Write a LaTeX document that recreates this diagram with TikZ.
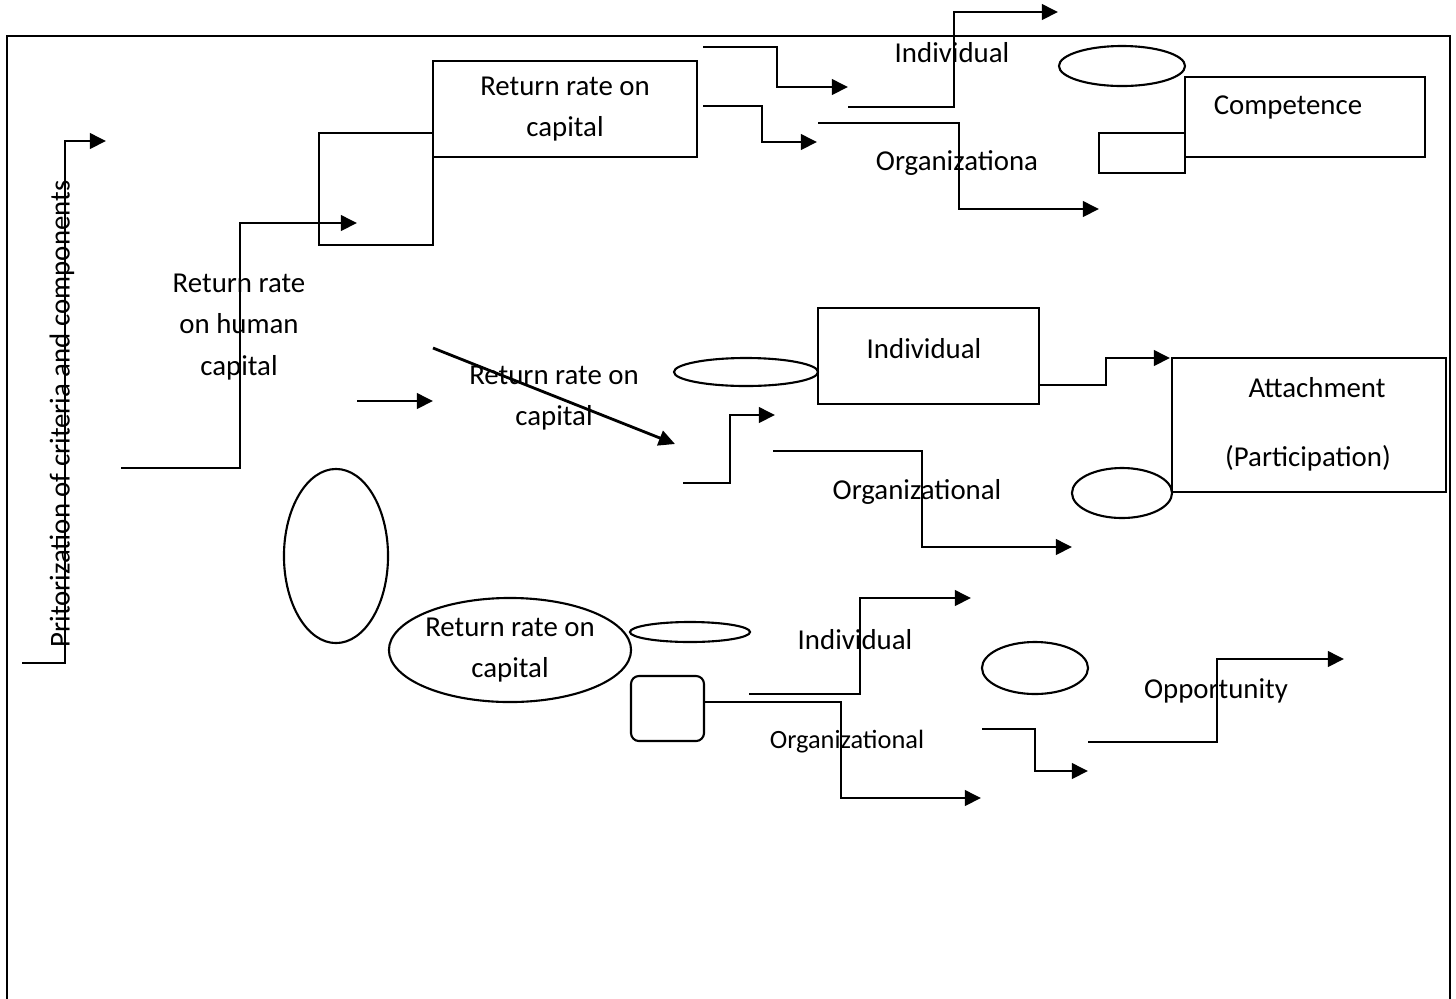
\documentclass[tikz,border=0pt]{standalone}
\usepackage{fontspec}
\setmainfont{Carlito}
\usetikzlibrary{arrows.meta,shapes.geometric}

\tikzset{
    txt/.style={font=\fontsize{8.2}{11.8}\selectfont,align=center,inner sep=0pt},
    box/.style={draw,line width=0.6pt,inner sep=0pt},
    oval/.style={draw,ellipse,line width=0.6pt,inner sep=0pt},
    conn/.style={line width=0.8pt,-{Triangle[length=4.6pt,width=4.4pt]}},
    bare/.style={line width=0.8pt}
}

\begin{document}
\begin{tikzpicture}[x=0.01cm,y=-0.01cm]
    \useasboundingbox (0,0) rectangle (1456,999);
    %
    \coordinate (F1) at (7,999);
    \coordinate (F2) at (7,36);
    \coordinate (F3) at (1450,36);
    \coordinate (F4) at (1450,999);
    \draw[line width=0.7pt] (F1) -- (F2) -- (F3) -- (F4);
    %
    \node[txt,rotate=90] (prio) at (62,414) {Pritorization of criteria and components};
    \coordinate (P1) at (22,663);
    \coordinate (P2) at (65,663);
    \coordinate (P3) at (65,141);
    \coordinate (P4) at (106,141);
    \draw[conn] (P1) -- (P2) -- (P3) -- (P4);
    %
    \node[txt] (human) at (239,327) {Return rate\\on human\\capital};
    \coordinate (H1) at (121,468);
    \coordinate (H2) at (240,468);
    \coordinate (H3) at (240,223);
    \coordinate (H4) at (357,223);
    \draw[conn] (H1) -- (H2) -- (H3) -- (H4);
    %
    \node[box,minimum width=1.14cm,minimum height=1.12cm] (sq) at (376,189) {};
    \node[box,txt,draw,line width=0.6pt,minimum width=2.64cm,minimum height=0.96cm] (capA) at (565,109) {Return rate on\\capital};
    %
    \coordinate (A1) at (703,47);
    \coordinate (A2) at (777,47);
    \coordinate (A3) at (777,87);
    \coordinate (A4) at (848,87);
    \coordinate (B1) at (703,106);
    \coordinate (B2) at (762,106);
    \coordinate (B3) at (762,142);
    \coordinate (B4) at (817,142);
    \coordinate (C1) at (848,107);
    \coordinate (C2) at (954,107);
    \coordinate (C3) at (954,12);
    \coordinate (C4) at (1058,12);
    \coordinate (D1) at (818,123);
    \coordinate (D2) at (959,123);
    \coordinate (D3) at (959,209);
    \coordinate (D4) at (1099,209);
    \draw[conn] (A1) -- (A2) -- (A3) -- (A4);
    \draw[conn] (B1) -- (B2) -- (B3) -- (B4);
    \draw[conn] (C1) -- (C2) -- (C3) -- (C4);
    \draw[conn] (D1) -- (D2) -- (D3) -- (D4);
    \node[txt] (indA) at (952,53) {Individual};
    \node[txt] (orgA) at (957,163) {Organizationa};
    %
    \node[oval,minimum width=1.26cm,minimum height=0.40cm] (ovA) at (1122,66) {};
    \node[box,minimum width=0.86cm,minimum height=0.40cm] (smA) at (1142,153) {};
    \node[box,fill=white,minimum width=2.40cm,minimum height=0.80cm] (comp) at (1305,117) {};
    \node[txt] (compT) at (1288,107) {Competence};
    %
    \coordinate (E1) at (357,401);
    \coordinate (E2) at (433,401);
    \coordinate (G1) at (433,348);
    \coordinate (G2) at (675,444);
    \draw[conn] (E1) -- (E2);
    \node[txt] (capB) at (554,398) {Return rate on\\capital};
    \draw[conn] (G1) -- (G2);
    %
    \coordinate (K1) at (683,483);
    \coordinate (K2) at (730,483);
    \coordinate (K3) at (730,415);
    \coordinate (K4) at (775,415);
    \draw[conn] (K1) -- (K2) -- (K3) -- (K4);
    \node[oval,minimum width=1.44cm,minimum height=0.28cm] (ovB) at (746,372) {};
    \node[box,minimum width=2.21cm,minimum height=0.96cm] (indB) at (928.5,356) {};
    \node[txt] (indBT) at (924,349) {Individual};
    %
    \coordinate (L1) at (1039,385);
    \coordinate (L2) at (1106,385);
    \coordinate (L3) at (1106,358);
    \coordinate (L4) at (1170,358);
    \draw[conn] (L1) -- (L2) -- (L3) -- (L4);
    \coordinate (M1) at (773,451);
    \coordinate (M2) at (922,451);
    \coordinate (M3) at (922,547);
    \coordinate (M4) at (1072,547);
    \draw[conn] (M1) -- (M2) -- (M3) -- (M4);
    \node[txt] (orgB) at (917,492) {Organizational};
    %
    \node[oval,minimum width=1.00cm,minimum height=0.50cm] (ovC) at (1122,493) {};
    \node[box,minimum width=2.74cm,minimum height=1.34cm] (att) at (1309,425) {};
    \node[txt] (attT) at (1317,388) {Attachment};
    \node[txt] (partT) at (1308,458) {(Participation)};
    %
    \node[oval,minimum width=1.04cm,minimum height=1.74cm] (ovD) at (336,556) {};
    \node[oval,txt,draw,line width=0.6pt,minimum width=2.42cm,minimum height=1.04cm] (capC) at (510,650) {Return rate on\\capital};
    \node[oval,minimum width=1.20cm,minimum height=0.20cm] (ovE) at (690,632) {};
    \node[box,rounded corners=0.08cm,minimum width=0.73cm,minimum height=0.65cm] (rsq) at (667.5,708.5) {};
    %
    \coordinate (N1) at (704,702);
    \coordinate (N2) at (841,702);
    \coordinate (N3) at (841,798);
    \coordinate (N4) at (981,798);
    \draw[conn] (N1) -- (N2) -- (N3) -- (N4);
    \coordinate (Q1) at (749,694);
    \coordinate (Q2) at (860,694);
    \coordinate (Q3) at (860,598);
    \coordinate (Q4) at (971,598);
    \draw[conn] (Q1) -- (Q2) -- (Q3) -- (Q4);
    \node[txt] (indC) at (855,640) {Individual};
    \node[txt,font=\fontsize{7.5}{9}\selectfont] (orgC) at (847,742) {Organizational};
    %
    \node[oval,minimum width=1.06cm,minimum height=0.52cm] (ovF) at (1035,668) {};
    \coordinate (R1) at (982,729);
    \coordinate (R2) at (1035,729);
    \coordinate (R3) at (1035,771);
    \coordinate (R4) at (1088,771);
    \draw[conn] (R1) -- (R2) -- (R3) -- (R4);
    \coordinate (S1) at (1088,742);
    \coordinate (S2) at (1217,742);
    \coordinate (S3) at (1217,659);
    \coordinate (S4) at (1344,659);
    \draw[conn] (S1) -- (S2) -- (S3) -- (S4);
    \node[txt] (opp) at (1216,691) {Opportunity};
    %
\end{tikzpicture}
\end{document}
